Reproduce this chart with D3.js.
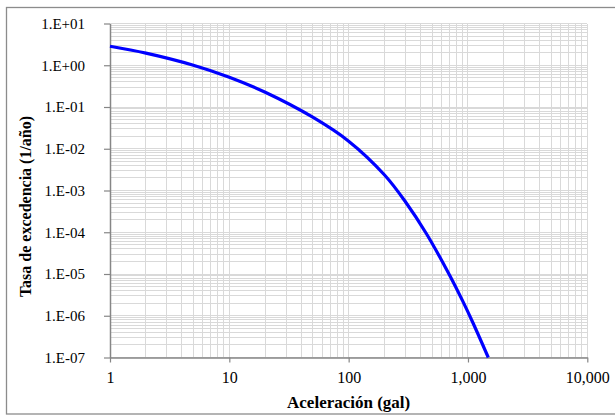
<!DOCTYPE html>
<html>
<head>
<meta charset="utf-8">
<script src="https://cdn.jsdelivr.net/npm/d3@7"></script>
<style>
  html, body { margin: 0; padding: 0; background: #fff; }
  svg { display: block; }
  text { font-family: "Liberation Serif", "Times New Roman", serif; fill: #000; }
</style>
</head>
<body>
<svg id="chart" width="615" height="416"></svg>
<script>
// Hazard curve: annual exceedance rate vs. peak ground acceleration
const accel = [1, 2, 5, 10, 20, 50, 100, 200, 300, 450, 700, 900, 1100, 1480];
const rate  = [2.85, 1.95, 1.0, 0.516, 0.225, 0.0569, 0.0152, 2.35e-3, 5.3e-4, 9.1e-5, 9.5e-6, 2.3e-6, 6.8e-7, 1.0e-7];

const xTicks = [1, 10, 100, 1000, 10000];
const yTicks = [1e1, 1e0, 1e-1, 1e-2, 1e-3, 1e-4, 1e-5, 1e-6, 1e-7];
const xTitle = "Aceleración (gal)";
const yTitle = "Tasa de excedencia (1/año)";

const svg = d3.select("#chart");
const plot = { left: 110, right: 587.3, top: 23.5, bottom: 357.5 };

const x = d3.scaleLog().domain([1, 10000]).range([plot.left, plot.right]);
const y = d3.scaleLog().domain([1e-7, 1e1]).range([plot.bottom, plot.top]);

// outer chart frame
svg.append("rect")
  .attr("x", 6.5).attr("y", 7.5).attr("width", 612).attr("height", 406.5)
  .attr("fill", "none").attr("stroke", "#8c8c8c").attr("stroke-width", 1.3);

// minor + major gridlines
const minorX = [];
for (let d = 1; d < 10000; d *= 10) for (let k = 2; k <= 9; k++) minorX.push(d * k);
const minorY = [];
for (let d = 1e-7; d < 9; d *= 10) for (let k = 2; k <= 9; k++) minorY.push(d * k);

const grid = svg.append("g").attr("stroke", "#d9d9d9").attr("stroke-width", 1).attr("shape-rendering", "crispEdges");
grid.selectAll(".gy").data(minorY.concat(yTicks)).join("line")
  .attr("x1", plot.left).attr("x2", plot.right)
  .attr("y1", d => y(d)).attr("y2", d => y(d));
grid.selectAll(".gx").data(minorX.concat(xTicks)).join("line")
  .attr("y1", plot.top).attr("y2", plot.bottom)
  .attr("x1", d => x(d)).attr("x2", d => x(d));

// axes
const fmtY = v => {
  const e = Math.round(Math.log10(v));
  return "1.E" + (e >= 0 ? "+" : "-") + String(Math.abs(e)).padStart(2, "0");
};
const yAxis = svg.append("g").attr("transform", `translate(${plot.left},0)`)
  .call(d3.axisLeft(y).tickValues(yTicks).tickFormat(fmtY).tickSize(6).tickSizeOuter(0).tickPadding(19));
const xAxis = svg.append("g").attr("transform", `translate(0,${plot.bottom})`)
  .call(d3.axisBottom(x).tickValues(xTicks).tickFormat(d3.format(",")).tickSize(5).tickSizeOuter(0).tickPadding(9));

[yAxis, xAxis].forEach(a => {
  a.select(".domain").attr("stroke", "#868686").attr("stroke-width", 1.5);
  a.selectAll(".tick line").attr("stroke", "#868686").attr("stroke-width", 1.2);
  a.selectAll("text").attr("font-family", "Liberation Serif, serif").attr("fill", "#000");
});
yAxis.selectAll("text").attr("font-size", 15);
xAxis.selectAll("text").attr("font-size", 16);

// hazard curve (smooth through the sampled points)
const line = d3.line()
  .x((d, i) => x(accel[i]))
  .y(d => y(d))
  .curve(d3.curveCatmullRom.alpha(0.5));
svg.append("path")
  .datum(rate)
  .attr("d", line)
  .attr("fill", "none")
  .attr("stroke", "#0000ff")
  .attr("stroke-width", 3.2);

// axis titles
svg.append("text")
  .attr("x", (plot.left + plot.right) / 2).attr("y", 408.3)
  .attr("text-anchor", "middle").attr("font-weight", "bold").attr("font-size", 17)
  .text(xTitle);
svg.append("text")
  .attr("transform", "translate(30.5,206.5) rotate(-90)")
  .attr("text-anchor", "middle").attr("font-weight", "bold").attr("font-size", 16)
  .text(yTitle);
</script>
</body>
</html>
